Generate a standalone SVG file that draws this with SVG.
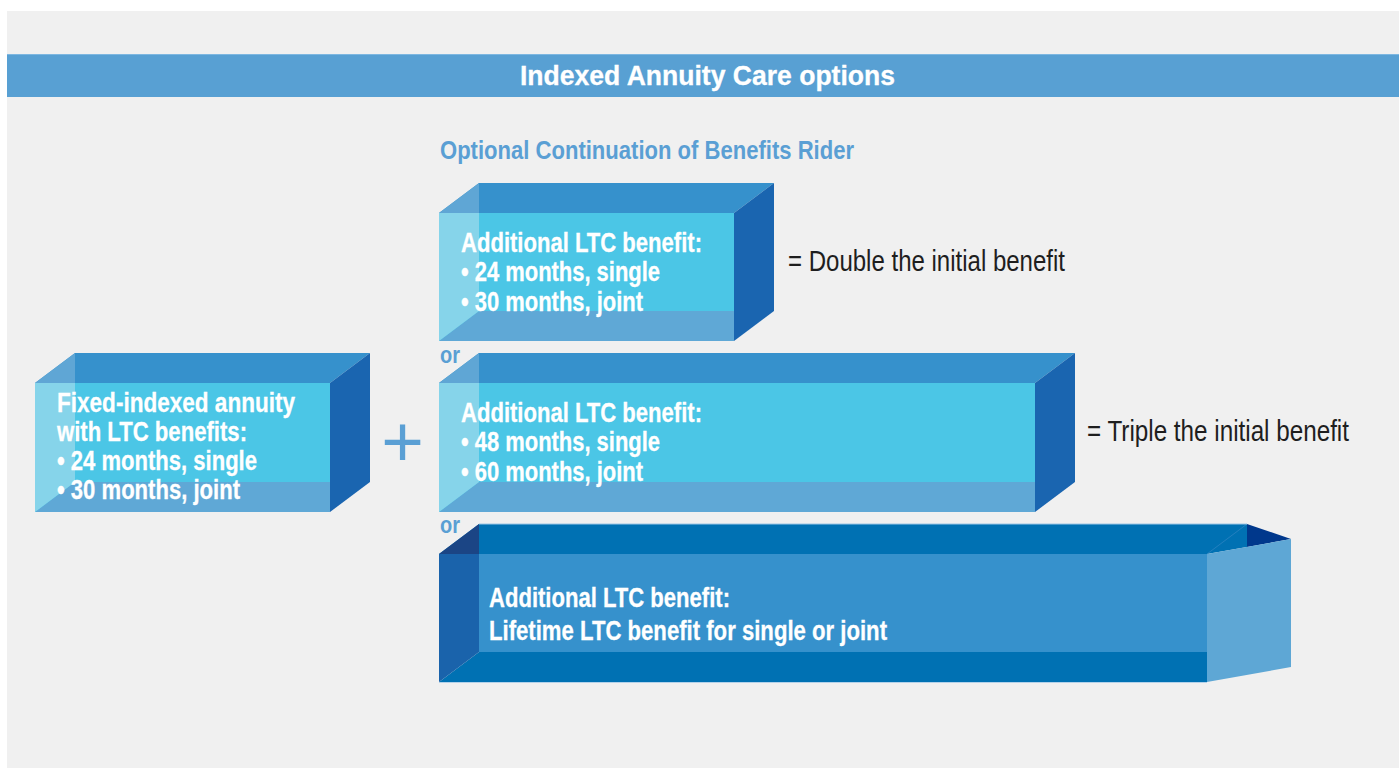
<svg xmlns="http://www.w3.org/2000/svg" width="1399" height="768" viewBox="0 0 1399 768">
<style>
  text { font-family: "Liberation Sans", Arial, sans-serif; }
  .bt { fill: #ffffff; font-weight: bold; font-size: 27px; stroke: #ffffff; stroke-width: 0.3px; }
  .blue { fill: #5a9fd4; font-weight: bold; }
  .eq { fill: #1e1e1e; font-size: 29px; }
  .top { fill: #3691cc; }
  .side { fill: #1a65b0; }
  .front { fill: #4bc6e6; }
  .floor { fill: #5fa8d6; }
  .wall { fill: #86d4ea; }
  .wallTop { fill: #5fa6d5; }
</style>
<rect x="0" y="0" width="1399" height="768" fill="#ffffff"/>
<rect x="7" y="11" width="1392" height="757" fill="#f0f0f0"/>
<g id="title">
  <rect x="7" y="54" width="1392" height="43" fill="#58a0d3"/>
  <rect x="7" y="54" width="1392" height="1" fill="#7db7e1"/>
  <text x="520" y="85" class="bt" font-size="33" textLength="375" lengthAdjust="spacingAndGlyphs">Indexed Annuity Care options</text>
</g>
<g id="subtitle">
  <text x="440" y="159" class="blue" font-size="26" textLength="414" lengthAdjust="spacingAndGlyphs">Optional Continuation of Benefits Rider</text>
</g>

<g id="box-base">
  <polygon class="top" points="35,383 75,353 370,353 330,383"/>
  <polygon class="side" points="330,383 370,353 370,482 330,512"/>
  <rect class="front" x="35" y="383" width="295" height="129"/>
  <polygon class="floor" points="35,512 75,482 330,482 330,512"/>
  <polygon class="wall" points="35,383 75,383 75,482 35,512"/>
  <polygon class="wallTop" points="35,383 75,353 75,383"/>
  <text class="bt" x="57" y="412" textLength="238" lengthAdjust="spacingAndGlyphs">Fixed-indexed annuity</text>
  <text class="bt" x="57" y="441" textLength="190" lengthAdjust="spacingAndGlyphs">with LTC benefits:</text>
  <text class="bt" x="57" y="470" textLength="200" lengthAdjust="spacingAndGlyphs">• 24 months, single</text>
  <text class="bt" x="57" y="499" textLength="183" lengthAdjust="spacingAndGlyphs">• 30 months, joint</text>
</g>

<g id="plus">
  <text x="402.5" y="466" text-anchor="middle" font-size="73" fill="#5a9fd4">+</text>
</g>

<g id="box-double">
  <polygon class="top" points="439,213 479,183 774,183 734,213"/>
  <polygon class="side" points="734,213 774,183 774,311 734,341"/>
  <rect class="front" x="439" y="213" width="295" height="128"/>
  <polygon class="floor" points="439,341 479,311 734,311 734,341"/>
  <polygon class="wall" points="439,213 479,213 479,311 439,341"/>
  <polygon class="wallTop" points="439,213 479,183 479,213"/>
  <text class="bt" x="461" y="252" textLength="241" lengthAdjust="spacingAndGlyphs">Additional LTC benefit:</text>
  <text class="bt" x="461" y="281" textLength="199" lengthAdjust="spacingAndGlyphs">• 24 months, single</text>
  <text class="bt" x="461" y="311" textLength="182" lengthAdjust="spacingAndGlyphs">• 30 months, joint</text>
</g>
<g id="label-double">
  <text class="eq" x="788" y="271" textLength="277" lengthAdjust="spacingAndGlyphs">= Double the initial benefit</text>
</g>

<g id="or-1">
  <text class="blue" x="440" y="363" font-size="23" textLength="20" lengthAdjust="spacingAndGlyphs">or</text>
</g>

<g id="box-triple">
  <polygon class="top" points="439,383 479,353 1075,353 1035,383"/>
  <polygon class="side" points="1035,383 1075,353 1075,482 1035,512"/>
  <rect class="front" x="439" y="383" width="596" height="129"/>
  <polygon class="floor" points="439,512 479,482 1035,482 1035,512"/>
  <polygon class="wall" points="439,383 479,383 479,482 439,512"/>
  <polygon class="wallTop" points="439,383 479,353 479,383"/>
  <text class="bt" x="461" y="422" textLength="241" lengthAdjust="spacingAndGlyphs">Additional LTC benefit:</text>
  <text class="bt" x="461" y="451" textLength="199" lengthAdjust="spacingAndGlyphs">• 48 months, single</text>
  <text class="bt" x="461" y="481" textLength="182" lengthAdjust="spacingAndGlyphs">• 60 months, joint</text>
</g>
<g id="label-triple">
  <text class="eq" x="1087" y="441" textLength="262" lengthAdjust="spacingAndGlyphs">= Triple the initial benefit</text>
</g>

<g id="or-2">
  <text class="blue" x="440" y="533" font-size="23" textLength="20" lengthAdjust="spacingAndGlyphs">or</text>
</g>

<g id="box-lifetime">
  <rect x="479" y="554" width="728" height="98" fill="#3691cc"/>
  <polygon points="439,554 479,524 1247,524 1247,547 1207,554" fill="#0071b3"/>
  <polygon points="439,682 479,652 1207,652 1207,682" fill="#0071b3"/>
  <polygon points="439,554 479,554 479,652 439,682" fill="#1a63ab"/>
  <polygon points="439,554 479,524 479,554" fill="#1b4585"/>
  <polygon points="1247,524 1291,539 1247,547" fill="#00388c"/>
  <polygon points="1207,554 1291,539 1291,667 1207,682" fill="#5ea7d5"/>
  <line x1="1207" y1="554" x2="1247" y2="524" stroke="#3a8ac6" stroke-width="0.6"/>
  <line x1="479" y1="524" x2="1247" y2="524" stroke="#9cc6e6" stroke-width="1"/>
  <line x1="439" y1="682.5" x2="1207" y2="682.5" stroke="#b4d2ea" stroke-width="1"/>
  <text class="bt" x="489" y="607" textLength="241" lengthAdjust="spacingAndGlyphs">Additional LTC benefit:</text>
  <text class="bt" x="489" y="640" textLength="398" lengthAdjust="spacingAndGlyphs">Lifetime LTC benefit for single or joint</text>
</g>
<g id="connectors"/>
</svg>
